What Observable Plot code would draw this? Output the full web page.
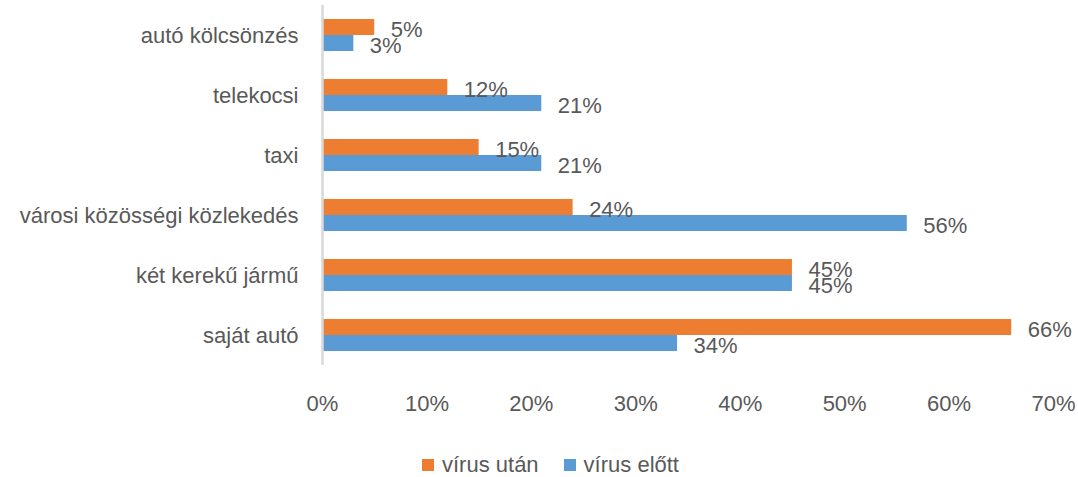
<!DOCTYPE html>
<html><head><meta charset="utf-8">
<script src="https://cdn.jsdelivr.net/npm/d3@7"></script>
<script src="https://cdn.jsdelivr.net/npm/@observablehq/plot@0.6"></script>
<style>
body{margin:0;background:#fff;font-family:"Liberation Sans",Arial,sans-serif;}
#chart{position:relative;width:1078px;height:477px;overflow:hidden;}
#legend{position:absolute;top:452px;left:422px;display:flex;align-items:center;font-size:22px;color:#595959;line-height:26px;}
.item{display:flex;align-items:center;margin-right:25px;}
.sw{width:12px;height:12px;display:inline-block;margin-right:8px;}
</style></head><body><div id="chart"><div id="legend"></div></div>
<script>
const categories = ["autó kölcsönzés","telekocsi","taxi","városi közösségi közlekedés","két kerekű jármű","saját autó"];
const seriesNames = ["vírus után","vírus előtt"];
const afterValues = [5,12,15,24,45,66];
const beforeValues = [3,21,21,56,45,34];
const xTicks = [0,10,20,30,40,50,60,70];
const colors = ["#ED7D31","#5B9BD5"];

const rows = [];
categories.forEach((c,i)=>{
  rows.push({category:c, series:seriesNames[0], value:afterValues[i]});
  rows.push({category:c, series:seriesNames[1], value:beforeValues[i]});
});

const plot = Plot.plot({
  width:1078, height:440, marginLeft:322, marginRight:25, marginTop:5, marginBottom:75,
  style:{fontFamily:'"Liberation Sans", Arial, sans-serif', fontSize:"22px", color:"#595959", background:"white"},
  x:{domain:[0,70], ticks:xTicks, tickFormat:d=>d+"%", tickSize:0, tickPadding:30, label:null},
  y:{domain:seriesNames, axis:null, paddingInner:0, paddingOuter:0.875},
  fy:{domain:categories, padding:0, label:null, tickSize:0, tickPadding:24, axis:"left"},
  color:{domain:seriesNames, range:colors},
  marks:[
    Plot.barX(rows,{x:"value", y:"series", fy:"category", fill:"series"}),
    Plot.ruleX([0],{stroke:"#d9d9d9", strokeWidth:2.5}),
    Plot.text(rows,{x:"value", y:"series", fy:"category", text:d=>d.value+"%", textAnchor:"start", dx:16, dy:2, fill:"#595959"})
  ]
});
const chart = document.getElementById("chart");
chart.insertBefore(plot, chart.firstChild);

const legend = document.getElementById("legend");
seriesNames.forEach((s,i)=>{
  const it = document.createElement("span"); it.className="item";
  const sw = document.createElement("span"); sw.className="sw"; sw.style.background=colors[i];
  it.appendChild(sw); it.appendChild(document.createTextNode(s));
  legend.appendChild(it);
});
</script></body></html>
